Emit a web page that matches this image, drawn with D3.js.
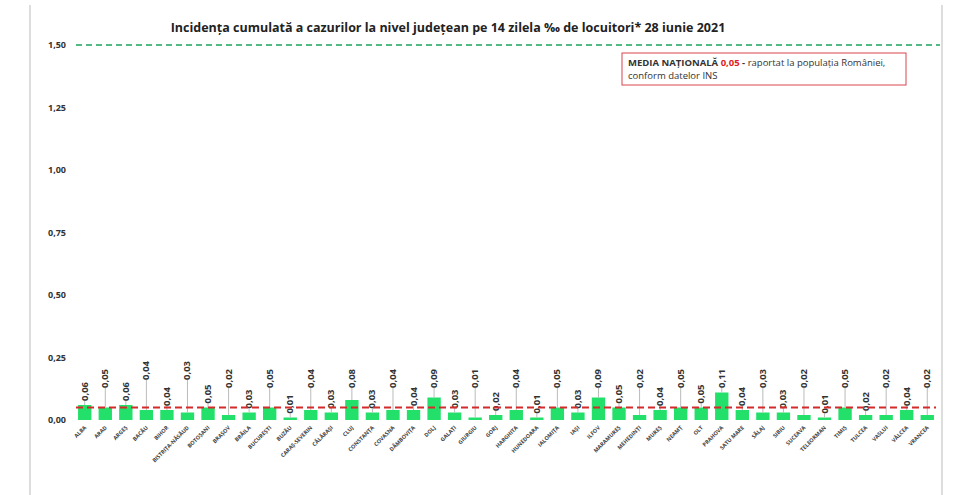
<!DOCTYPE html>
<html><head><meta charset="utf-8">
<script src="https://cdn.jsdelivr.net/npm/d3@7"></script>
<style>body{margin:0;background:#fff}svg{font-family:"Open Sans",Calibri,sans-serif}</style>
</head><body>
<svg id="c" width="960" height="495"></svg>
<script>
const counties = ["ALBA","ARAD","ARGEȘ","BACĂU","BIHOR","BISTRIȚA-NĂSĂUD","BOTOȘANI","BRAȘOV","BRĂILA","BUCUREȘTI","BUZĂU","CARAȘ-SEVERIN","CĂLĂRAȘI","CLUJ","CONSTANȚA","COVASNA","DÂMBOVIȚA","DOLJ","GALAȚI","GIURGIU","GORJ","HARGHITA","HUNEDOARA","IALOMIȚA","IAȘI","ILFOV","MARAMUREȘ","MEHEDINȚI","MUREȘ","NEAMȚ","OLT","PRAHOVA","SATU MARE","SĂLAJ","SIBIU","SUCEAVA","TELEORMAN","TIMIȘ","TULCEA","VASLUI","VÂLCEA","VRANCEA"];
const values = [0.06,0.05,0.06,0.04,0.04,0.03,0.05,0.02,0.03,0.05,0.01,0.04,0.03,0.08,0.03,0.04,0.04,0.09,0.03,0.01,0.02,0.04,0.01,0.05,0.03,0.09,0.05,0.02,0.04,0.05,0.05,0.11,0.04,0.03,0.03,0.02,0.01,0.05,0.02,0.02,0.04,0.02];
const yTicks = [0,0.25,0.5,0.75,1,1.25,1.5];
const nationalAvg = 0.05, threshold = 1.5;

const fmt = v => d3.format(".2f")(v).replace(".", ",");
const svg = d3.select("#c");
const x = d3.scaleBand().domain(counties).range([76, 936]).paddingInner(0.35).paddingOuter(0.1);
const y = d3.scaleLinear().domain([0, 1.5]).range([420, 45]);

// frame lines
svg.append("line").attr("x1",30).attr("x2",30).attr("y1",5).attr("y2",495).attr("stroke","#ddd").attr("stroke-width",2);
svg.append("line").attr("x1",942).attr("x2",942).attr("y1",5).attr("y2",495).attr("stroke","#ddd").attr("stroke-width",2);

svg.append("text").attr("x",448).attr("y",32).attr("text-anchor","middle")
  .attr("font-size",12.5).attr("font-weight","bold").attr("fill","#222")
  .text("Incidența cumulată a cazurilor la nivel județean pe 14 zilela ‰ de locuitori*  28 iunie 2021");

// y axis labels
svg.selectAll(".yt").data(yTicks).join("text")
  .attr("x",66).attr("y",d=>y(d)+3).attr("text-anchor","end")
  .attr("font-size",9).attr("font-weight","bold").attr("fill","#333").text(fmt);

// bars
svg.selectAll(".bar").data(values).join("rect")
  .attr("x",(d,i)=>x(counties[i])).attr("width",x.bandwidth())
  .attr("y",d=>y(d)).attr("height",d=>y(0)-y(d)).attr("fill","#22e06a");

// leader lines and value labels
const labelBase = (d,i) => i%2 ? Math.min(y(d)-4, 388) - (i===3||i===5||i===10?8:0) : y(d)-4;
svg.selectAll(".lead").data(values).join("line")
  .attr("x1",(d,i)=>x(counties[i])+x.bandwidth()/2).attr("x2",(d,i)=>x(counties[i])+x.bandwidth()/2)
  .attr("y1",d=>y(d)).attr("y2",(d,i)=>labelBase(d,i))
  .attr("stroke","#bbb");
svg.selectAll(".vl").data(values).join("text")
  .attr("transform",(d,i)=>`translate(${x(counties[i])+x.bandwidth()/2+3},${labelBase(d,i)}) rotate(-90)`)
  .attr("font-size",9.5).attr("font-weight","bold").attr("fill","#333").text(fmt);

// category labels
svg.selectAll(".cl").data(counties).join("text")
  .attr("transform",d=>`translate(${x(d)+x.bandwidth()/2+2},${428}) rotate(-45)`)
  .attr("text-anchor","end").attr("font-size",5.5).attr("font-weight","bold").attr("fill","#444").text(d=>d);

// reference lines
svg.append("line").attr("x1",76).attr("x2",940).attr("y1",y(threshold)).attr("y2",y(threshold))
  .attr("stroke","#1aa35a").attr("stroke-width",1.5).attr("stroke-dasharray","6,4");
svg.append("line").attr("x1",76).attr("x2",936).attr("y1",y(nationalAvg)).attr("y2",y(nationalAvg))
  .attr("stroke","#d42a2a").attr("stroke-width",2).attr("stroke-dasharray","7,4");

// legend box
const g = svg.append("g").attr("transform","translate(622,53)");
g.append("rect").attr("width",284).attr("height",32).attr("fill","#fff").attr("stroke","#d9454f");
const t = g.append("text").attr("x",6).attr("y",13).attr("font-size",9.5).attr("fill","#333");
t.append("tspan").attr("font-weight","bold").text("MEDIA NAȚIONALĂ ");
t.append("tspan").attr("font-weight","bold").attr("fill","#e02020").text(fmt(nationalAvg));
t.append("tspan").attr("font-weight","bold").text(" - ");
t.append("tspan").text("raportat la populația României,");
g.append("text").attr("x",6).attr("y",26).attr("font-size",9.5).attr("fill","#333").text("conform datelor INS");
</script>
</body></html>
